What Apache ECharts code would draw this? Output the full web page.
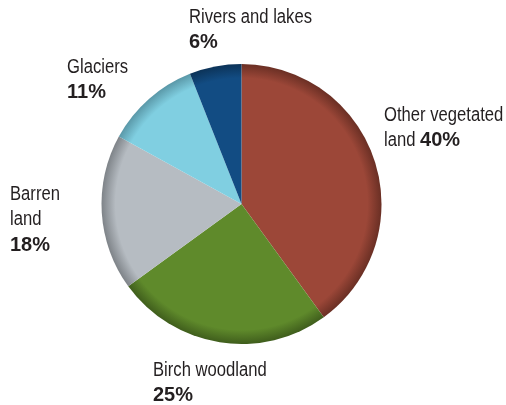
<!DOCTYPE html>
<html><head><meta charset="utf-8">
<script src="https://cdn.jsdelivr.net/npm/echarts@6/dist/echarts.min.js"></script>
<style>html,body{margin:0;padding:0;background:#fff}#c{width:506px;height:405px}</style>
</head><body><div id="c"></div>
<script>
const categories = ['Other vegetated\nland', 'Birch woodland', 'Barren\nland', 'Glaciers', 'Rivers and lakes'];
const values = [40, 25, 18, 11, 6];
const percentSep = [' ', '\n', '\n', '\n', '\n'];
const colors = [['#9c4738', '#6a2f24'], ['#5f8a2b', '#3f5d1c'], ['#b6bcc2', '#7e8388'], ['#80cfe1', '#5a98a8'], ['#124c83', '#0c3358']];
// label anchor: left x, baseline of first line
const labelPos = [[384, 122], [153, 377], [10, 201], [67, 74], [189, 24]];

const FONT = '"Liberation Sans", Arial, sans-serif';
const FS = 20, LH = 25.5;
const ctx = document.createElement('canvas').getContext('2d');
ctx.font = FS + 'px ' + FONT;
const SX = Math.min(1, 123 / ctx.measureText('Rivers and lakes').width);

const cx = 241.5, cy = 204, R = 140;
function grad(c) {
  return { type: 'radial', x: cx, y: cy, r: R, global: true,
    colorStops: [{offset: 0, color: c[0]}, {offset: 0.9, color: c[0]}, {offset: 1, color: c[1]}] };
}
const labels = [];
categories.forEach((n, i) => {
  const lines = n.split('\n');
  const x0 = labelPos[i][0], b0 = labelPos[i][1];
  lines.forEach((s, k) => labels.push({
    type: 'text', x: x0, y: b0 + k * LH - 7, scaleX: SX, silent: true,
    style: { text: s, font: FS + 'px ' + FONT, fill: '#231f20', verticalAlign: 'middle', textVerticalAlign: 'middle' }
  }));
  let px = x0, py = b0 + lines.length * LH - 7;
  if (percentSep[i] === ' ') {
    px = x0 + ctx.measureText(lines[lines.length - 1] + ' ').width * SX;
    py = b0 + (lines.length - 1) * LH - 7;
  }
  labels.push({
    type: 'text', x: px, y: py, silent: true,
    style: { text: values[i] + '%', font: 'bold ' + FS + 'px ' + FONT, fill: '#231f20', verticalAlign: 'middle', textVerticalAlign: 'middle' }
  });
});
const chart = echarts.init(document.getElementById('c'));
chart.setOption({
  animation: false,
  graphic: labels,
  series: [{
    type: 'pie',
    center: [cx, cy],
    radius: [0, R],
    startAngle: 90,
    clockwise: true,
    data: categories.map((n, i) => ({ name: n, value: values[i], itemStyle: { color: grad(colors[i]) } })),
    label: { show: false },
    labelLine: { show: false },
    emphasis: { disabled: true }
  }]
});
</script></body></html>
